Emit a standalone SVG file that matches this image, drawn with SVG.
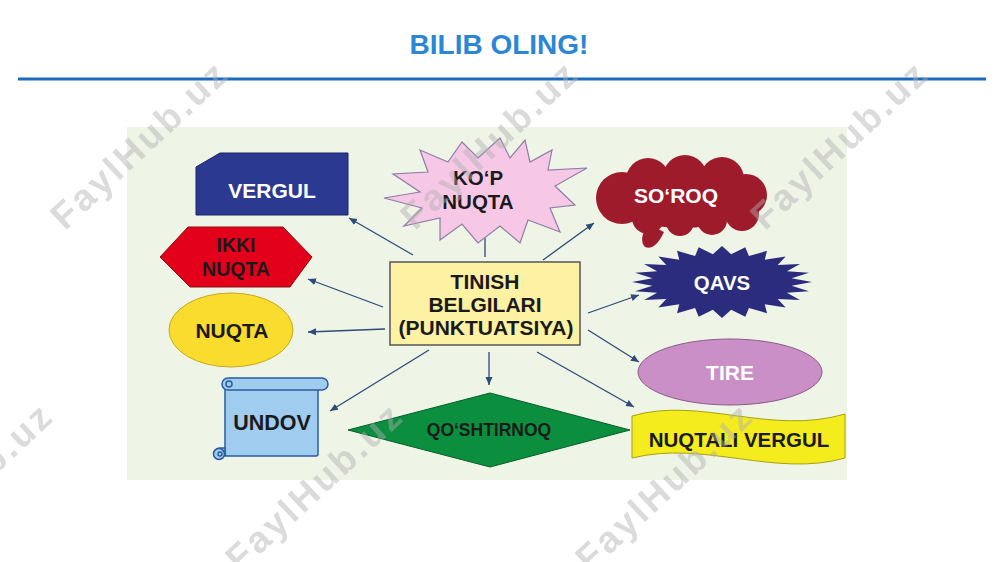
<svg xmlns="http://www.w3.org/2000/svg" width="1000" height="562" viewBox="0 0 1000 562">
<defs>
<style>
.t{font-family:"Liberation Sans",Arial,sans-serif;font-weight:bold;text-anchor:middle}
.dk{fill:#1a1a1a}
.wh{fill:#ffffff}
.cn{stroke:#2e4a78;stroke-width:1.3;fill:none;marker-end:url(#ah)}
.wm{font-family:"Liberation Sans",Arial,sans-serif;font-weight:bold;font-size:37px;letter-spacing:3px;fill:#b0b0b0;opacity:0.45;text-anchor:middle}
</style>
<marker id="ah" markerUnits="userSpaceOnUse" markerWidth="9" markerHeight="8" refX="8" refY="4" orient="auto">
<path d="M0,0.5 L8,4 L0,7.5 Z" fill="#2e4a78"/>
</marker>
<filter id="sh" x="-5%" y="-200%" width="110%" height="500%"><feGaussianBlur stdDeviation="1.5"/></filter>
<polygon id="star24" points="1,0 0.773,0.102 0.966,0.259 0.721,0.299 0.866,0.5 0.619,0.475 0.707,0.707 0.475,0.619 0.5,0.866 0.299,0.721 0.259,0.966 0.102,0.773 0,1 -0.102,0.773 -0.259,0.966 -0.299,0.721 -0.5,0.866 -0.475,0.619 -0.707,0.707 -0.619,0.475 -0.866,0.5 -0.721,0.299 -0.966,0.259 -0.773,0.102 -1,0 -0.773,-0.102 -0.966,-0.259 -0.721,-0.299 -0.866,-0.5 -0.619,-0.475 -0.707,-0.707 -0.475,-0.619 -0.5,-0.866 -0.299,-0.721 -0.259,-0.966 -0.102,-0.773 0,-1 0.102,-0.773 0.259,-0.966 0.299,-0.721 0.5,-0.866 0.475,-0.619 0.707,-0.707 0.619,-0.475 0.866,-0.5 0.721,-0.299 0.966,-0.259 0.773,-0.102"/>
</defs>
<rect width="1000" height="562" fill="#ffffff"/>
<g id="title">
<text class="t" x="499" y="54" font-size="28" fill="#2b87d6">BILIB OLING!</text>
<line x1="20" y1="82" x2="986" y2="82" stroke="#999" stroke-width="3" filter="url(#sh)"/>
<line x1="18" y1="79" x2="986" y2="79" stroke="#1b6cc0" stroke-width="3"/>
</g>
<rect id="panel" x="127" y="127" width="720" height="353" fill="#eef4e6"/>

<g id="connectors">
<line class="cn" x1="413" y1="255" x2="349" y2="218"/>
<line class="cn" x1="485" y1="257" x2="485" y2="223"/>
<line class="cn" x1="383" y1="307" x2="308" y2="279"/>
<line class="cn" x1="385" y1="329" x2="308" y2="332"/>
<line class="cn" x1="429" y1="350" x2="330" y2="411"/>
<line class="cn" x1="489" y1="352" x2="489" y2="385"/>
<line class="cn" x1="543" y1="260" x2="594" y2="223"/>
<line class="cn" x1="588" y1="313" x2="639" y2="295"/>
<line class="cn" x1="588" y1="330" x2="639" y2="362"/>
<line class="cn" x1="537" y1="352" x2="634" y2="407"/>
</g>

<g id="center">
<rect x="390" y="262" width="190" height="83" fill="#fdf1a4" stroke="#555" stroke-width="1.5"/>
<text class="t dk" x="485" y="289" font-size="21">TINISH</text>
<text class="t dk" x="485" y="312" font-size="21">BELGILARI</text>
<text class="t dk" x="486" y="335" font-size="21">(PUNKTUATSIYA)</text>
</g>

<g id="vergul">
<polygon points="196,167 220,153 348,153 348,215 196,215" fill="#2b3990" stroke="#1b2466" stroke-width="1"/>
<text class="t wh" x="272" y="198" font-size="21">VERGUL</text>
</g>

<g id="kop-nuqta">
<polygon points="384,198 420,192 393,174 428,172 420,150 448,162 462,142 478,158 500,138 510,158 525,140 530,162 552,150 548,170 587,168 555,186 575,205 550,208 560,232 528,220 520,243 500,226 478,243 462,224 440,240 440,218 404,226 422,208" fill="#f7c8e6" stroke="#8c7ea6" stroke-width="1.2"/>
<text class="t dk" x="478" y="185" font-size="20.5">KO‘P</text>
<text class="t dk" x="478" y="209" font-size="20.5">NUQTA</text>
</g>

<g id="soroq" fill="#9e1b2c">
<ellipse cx="682" cy="198" rx="70" ry="30"/>
<circle cx="622" cy="198" r="26"/>
<circle cx="648" cy="180" r="22"/>
<circle cx="685" cy="177" r="22"/>
<circle cx="722" cy="179" r="22"/>
<circle cx="746" cy="195" r="21"/>
<circle cx="742" cy="214" r="17"/>
<circle cx="712" cy="220" r="15"/>
<circle cx="680" cy="222" r="14"/>
<circle cx="648" cy="218" r="16"/>
<path d="M648,224 Q638,240 645,247 Q655,251 664,232 Z"/>
<text class="t wh" x="676" y="203" font-size="21" font-weight="normal">SO‘ROQ</text>
</g>

<g id="ikki-nuqta">
<polygon points="160,257 188,227 283,227 312,257 290,287 190,287" fill="#e3001b" stroke="#8a1010" stroke-width="1"/>
<text class="t dk" x="236" y="252" font-size="19.5">IKKI</text>
<text class="t dk" x="236" y="276" font-size="19.5">NUQTA</text>
</g>

<g id="qavs">
<use href="#star24" transform="translate(722,282) scale(90,36)" fill="#2b2c7e"/>
<text class="t wh" x="722" y="290" font-size="20.5">QAVS</text>
</g>

<g id="nuqta">
<ellipse cx="231" cy="330" rx="62" ry="37" fill="#f9dc2e" stroke="#c8a820" stroke-width="1"/>
<text class="t dk" x="232" y="338" font-size="21">NUQTA</text>
</g>

<g id="tire">
<ellipse cx="730" cy="372" rx="92" ry="33" fill="#c98fc6" stroke="#8a5a8a" stroke-width="1"/>
<text class="t wh" x="730" y="380" font-size="21">TIRE</text>
</g>

<g id="undov" fill="#a0ccf0" stroke="#2a5c9e" stroke-width="1.5">
<rect x="225" y="384" width="93" height="72" rx="2"/>
<rect x="222" y="378" width="106" height="12" rx="6"/>
<circle cx="229" cy="384" r="3" fill="none"/>
<path d="M225,448 L225,456 L214,456 A6,6 0 0 1 220,448 Z"/>
<circle cx="219" cy="454" r="5.5"/>
<circle cx="220" cy="454" r="2" fill="none"/>
<text class="t dk" x="272" y="430" font-size="21.5" stroke="none">UNDOV</text>
</g>

<g id="qoshtirnoq">
<polygon points="348,430 490,393 630,430 490,467" fill="#0b8e3e" stroke="#05602a" stroke-width="1"/>
<text class="t dk" x="489" y="436" font-size="17.5">QO‘SHTIRNOQ</text>
</g>

<g id="nuqtali-vergul">
<path d="M632,416 C700,396 770,436 845,414 L845,458 C775,478 705,440 632,458 Z" fill="#f5ec1e" stroke="#a8a010" stroke-width="1"/>
<text class="t dk" x="739" y="447" font-size="20.5">NUQTALI VERGUL</text>
</g>

<g id="watermarks">
<text class="wm" transform="translate(140,145) rotate(-43)" y="12">FaylHub.uz</text>
<text class="wm" transform="translate(490,145) rotate(-43)" y="12">FaylHub.uz</text>
<text class="wm" transform="translate(840,145) rotate(-43)" y="12">FaylHub.uz</text>
<text class="wm" transform="translate(-35,487) rotate(-43)" y="12">FaylHub.uz</text>
<text class="wm" transform="translate(315,487) rotate(-43)" y="12">FaylHub.uz</text>
<text class="wm" transform="translate(665,487) rotate(-43)" y="12">FaylHub.uz</text>
</g>
</svg>
